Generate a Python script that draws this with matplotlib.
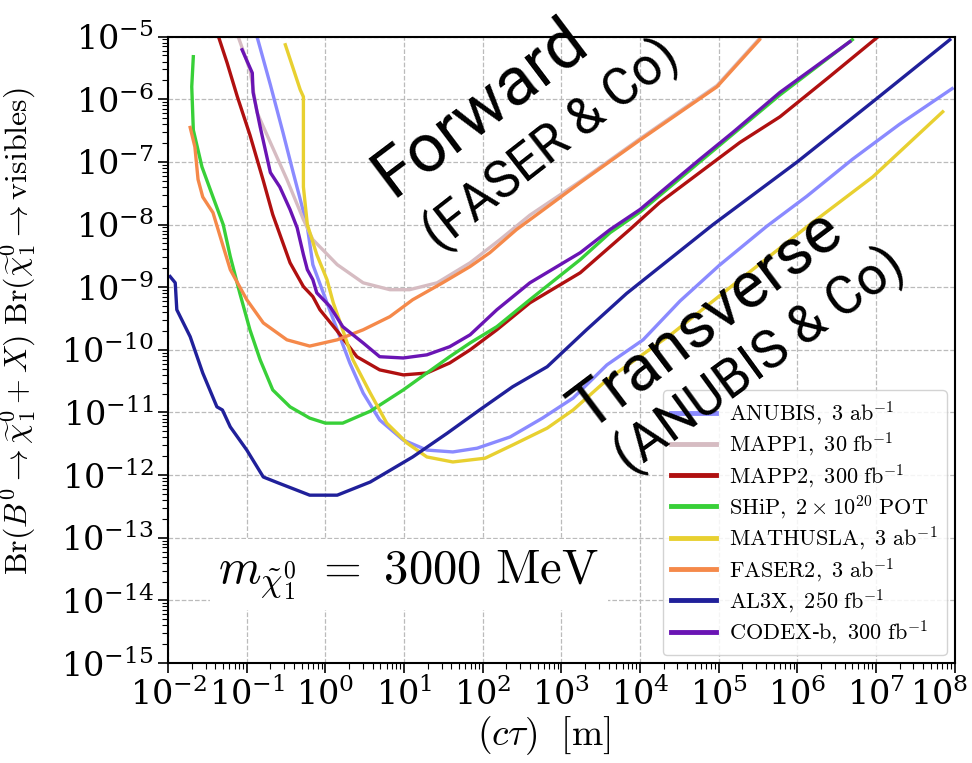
import numpy as np
import matplotlib
matplotlib.use("Agg")
import matplotlib.pyplot as plt
import matplotlib.transforms as mtransforms

plt.rcParams['mathtext.fontset'] = 'cm'
plt.rcParams['font.family'] = ['DejaVu Serif']

# ---- data (log10 of c*tau [m] and log10 of branching ratio) ----
labels = [r'$\mathrm{ANUBIS,\ 3\ ab^{-1}}$',
          r'$\mathrm{MAPP1,\ 30\ fb^{-1}}$',
          r'$\mathrm{MAPP2,\ 300\ fb^{-1}}$',
          r'$\mathrm{SHiP,\ 2\times10^{20}\ POT}$',
          r'$\mathrm{MATHUSLA,\ 3\ ab^{-1}}$',
          r'$\mathrm{FASER2,\ 3\ ab^{-1}}$',
          r'$\mathrm{AL3X,\ 250\ fb^{-1}}$',
          r'$\mathrm{CODEX}$-$\mathrm{b,\ 300\ fb^{-1}}$']

anubis_lx = [-0.87, -0.70, -0.54, -0.41, -0.32, -0.23, -0.16, 0.02, 0.15, 0.31, 0.48, 0.69, 0.99, 1.29, 1.62, 1.93, 2.35, 2.76, 3.15, 3.58, 4.04, 4.51, 5.01, 5.61, 6.12, 6.70, 7.30, 7.97]
anubis_ly = [-5.0, -5.77, -6.53, -7.17, -7.60, -8.04, -8.64, -9.25, -9.68, -10.21, -10.69, -11.12, -11.44, -11.60, -11.63, -11.57, -11.39, -11.09, -10.77, -10.24, -9.84, -9.22, -8.65, -8.03, -7.55, -6.96, -6.40, -5.83]

mapp1_lx = [-1.11, -0.96, -0.87, -0.70, -0.49, -0.28, -0.16, 0.15, 0.48, 0.82, 1.07, 1.42, 1.84, 2.22, 2.60, 3.24, 4.0, 4.98, 5.52]
mapp1_ly = [-5.0, -5.53, -6.21, -6.69, -7.28, -7.92, -8.24, -8.64, -8.93, -9.04, -9.04, -8.93, -8.61, -8.24, -7.85, -7.31, -6.63, -5.78, -5.03]

mapp2_lx = [-1.36, -1.25, -1.12, -0.96, -0.79, -0.67, -0.51, -0.45, -0.28, -0.16, -0.07, 0.15, 0.40, 0.69, 0.99, 1.29, 1.58, 1.84, 2.18, 2.60, 3.24, 3.87, 4.25, 4.76, 5.27, 5.78, 6.40, 7.01]
mapp2_ly = [-5.0, -5.42, -5.96, -6.57, -7.30, -7.84, -8.40, -8.61, -8.99, -9.15, -9.36, -9.70, -10.11, -10.32, -10.40, -10.37, -10.21, -10.0, -9.68, -9.25, -8.77, -8.08, -7.65, -7.17, -6.69, -6.28, -5.65, -5.02]

ship_lx = [-1.68, -1.70, -1.68, -1.57, -1.43, -1.30, -1.21, -1.09, -0.96, -0.83, -0.67, -0.45, -0.20, 0.0, 0.22, 0.57, 0.99, 1.29, 1.58, 1.84, 2.18, 2.60, 3.24, 3.62, 4.0, 4.76, 5.78, 6.70]
ship_ly = [-5.32, -5.80, -6.49, -7.08, -7.56, -8.0, -8.51, -9.09, -9.68, -10.16, -10.64, -10.91, -11.09, -11.17, -11.17, -10.98, -10.64, -10.37, -10.11, -9.89, -9.63, -9.20, -8.56, -8.13, -7.80, -7.00, -5.93, -5.05]

mathusla_lx = [-0.51, -0.32, -0.28, -0.28, -0.23, -0.11, 0.02, 0.10, 0.19, 0.35, 0.57, 0.78, 1.04, 1.29, 1.62, 2.03, 2.38, 2.82, 3.15, 3.58, 4.42, 5.27, 6.12, 6.96, 7.85]
mathusla_ly = [-5.13, -5.85, -5.96, -7.40, -8.0, -8.48, -8.88, -9.25, -9.57, -10.16, -10.69, -11.17, -11.49, -11.71, -11.79, -11.73, -11.52, -11.25, -10.96, -10.48, -9.73, -8.88, -8.04, -7.24, -6.20]

faser2_lx = [-1.72, -1.66, -1.62, -1.56, -1.43, -1.30, -1.21, -1.0, -0.79, -0.49, -0.20, 0.15, 0.48, 0.82, 1.11, 1.49, 1.84, 2.09, 2.43, 2.82, 3.24, 4.0, 4.98, 5.52]
faser2_ly = [-6.45, -6.76, -7.28, -7.56, -7.81, -8.35, -8.72, -9.20, -9.57, -9.84, -9.94, -9.84, -9.68, -9.47, -9.20, -8.93, -8.67, -8.45, -8.08, -7.72, -7.33, -6.65, -5.80, -5.05]

al3x_lx = [-1.975, -1.91, -1.89, -1.72, -1.56, -1.38, -1.31, -1.21, -1.0, -0.79, -0.61, -0.20, 0.15, 0.57, 1.11, 1.55, 1.96, 2.38, 2.82, 3.32, 3.83, 4.93, 6.0, 7.0, 7.94]
al3x_ly = [-8.83, -8.93, -9.36, -9.79, -10.37, -10.91, -10.96, -11.23, -11.60, -12.03, -12.12, -12.32, -12.32, -12.11, -11.71, -11.33, -10.96, -10.59, -10.27, -9.68, -9.10, -8.0, -7.0, -6.0, -5.05]

codexb_lx = [-1.06, -0.93, -0.92, -0.83, -0.70, -0.58, -0.45, -0.36, -0.28, -0.23, -0.16, -0.11, 0.06, 0.22, 0.48, 0.69, 0.99, 1.29, 1.58, 1.84, 2.18, 2.60, 3.24, 3.62, 4.0, 4.76, 5.18, 5.78, 6.67]
codexb_ly = [-5.21, -5.58, -5.89, -6.44, -7.17, -7.40, -7.76, -8.05, -8.48, -8.72, -8.88, -9.09, -9.31, -9.63, -9.89, -10.11, -10.13, -10.08, -9.95, -9.76, -9.36, -8.93, -8.45, -8.08, -7.76, -6.96, -6.53, -5.89, -5.08]

colors = ['#8a8aff', '#d6bcc2', '#b01010', '#38d038', '#e8d030', '#f5894a', '#20209a', '#6a14b4']

series = [(anubis_lx, anubis_ly), (mapp1_lx, mapp1_ly), (mapp2_lx, mapp2_ly),
          (ship_lx, ship_ly), (mathusla_lx, mathusla_ly), (faser2_lx, faser2_ly),
          (al3x_lx, al3x_ly), (codexb_lx, codexb_ly)]

xticks = [1e-2, 1e-1, 1e0, 1e1, 1e2, 1e3, 1e4, 1e5, 1e6, 1e7, 1e8]
yticks = [1e-15, 1e-14, 1e-13, 1e-12, 1e-11, 1e-10, 1e-9, 1e-8, 1e-7, 1e-6, 1e-5]

fig = plt.figure(figsize=(9.72, 7.63), dpi=100)
ax = fig.add_axes([0.173, 0.131, 0.809, 0.821])

for (lx, ly), c, lab in zip(series, colors, labels):
    ax.plot(10 ** np.array(lx), 10 ** np.array(ly), color=c, lw=2.4, label=lab)

ax.set_xscale('log')
ax.set_yscale('log')
ax.set_xlim(1e-2, 1e8)
ax.set_ylim(1e-15, 1e-5)
ax.set_xticks(xticks)
ax.set_yticks(yticks)
ax.xaxis.set_minor_locator(matplotlib.ticker.LogLocator(base=10, subs=np.arange(2, 10), numticks=100))
ax.yaxis.set_minor_locator(matplotlib.ticker.LogLocator(base=10, subs=np.arange(2, 10), numticks=100))
ax.xaxis.set_minor_formatter(matplotlib.ticker.NullFormatter())
ax.yaxis.set_minor_formatter(matplotlib.ticker.NullFormatter())
ax.tick_params(which='major', direction='out', length=7, width=1.2, labelsize=24)
ax.tick_params(which='minor', direction='out', length=4, width=0.8)
ax.grid(True, which='major', ls='--', color='#bbbbbb', lw=0.9)
for s in ax.spines.values():
    s.set_linewidth(1.5)

# keep last x tick label inside the figure
fig.canvas.draw()
last = ax.get_xticklabels()[-1]
last.set_transform(last.get_transform() + mtransforms.ScaledTranslation(-0.15, 0, fig.dpi_scale_trans))

ax.set_xlabel(r'$(c\tau)\ \ [\mathrm{m}]$', fontsize=27)
ax.xaxis.set_label_coords(0.477, -0.082)
ax.set_ylabel(r'$\mathrm{Br}(B^0 \to \widetilde{\chi}_1^0 + X)\ \mathrm{Br}(\widetilde{\chi}_1^0 \to \mathrm{visibles})$',
              fontsize=23)
ax.yaxis.set_label_coords(-0.165, 0.53)

leg = ax.legend(loc='lower right', fontsize=16, handlelength=2.0, handletextpad=0.6,
                labelspacing=0.15, borderaxespad=0.35, framealpha=0.85, edgecolor='#cccccc')
for l in leg.get_lines():
    l.set_linewidth(3.5)

ax.text(0.064, 0.141, r'$m_{\tilde{\chi}_1^0}\ =\ 3000\ \mathrm{MeV}$', transform=ax.transAxes,
        fontsize=35, ha='left', va='center',
        bbox=dict(facecolor='white', edgecolor='none', pad=6), zorder=4)

sans = ['Roboto', 'Liberation Sans', 'DejaVu Sans']
ax.text(0.396, 0.887, 'Forward', transform=ax.transAxes, family=sans, fontsize=49,
        rotation=37, ha='center', va='center', rotation_mode='anchor', zorder=10)
ax.text(0.487, 0.827, '(FASER & Co)', transform=ax.transAxes, family=sans, fontsize=37,
        rotation=38, ha='center', va='center', rotation_mode='anchor', zorder=10)
ax.text(0.684, 0.548, 'Transverse', transform=ax.transAxes, family=sans, fontsize=47,
        rotation=37, ha='center', va='center', rotation_mode='anchor', zorder=10)
ax.text(0.752, 0.484, '(ANUBIS & Co)', transform=ax.transAxes, family=sans, fontsize=38,
        rotation=36, ha='center', va='center', rotation_mode='anchor', zorder=10)

fig.savefig('out.png', dpi=100)
